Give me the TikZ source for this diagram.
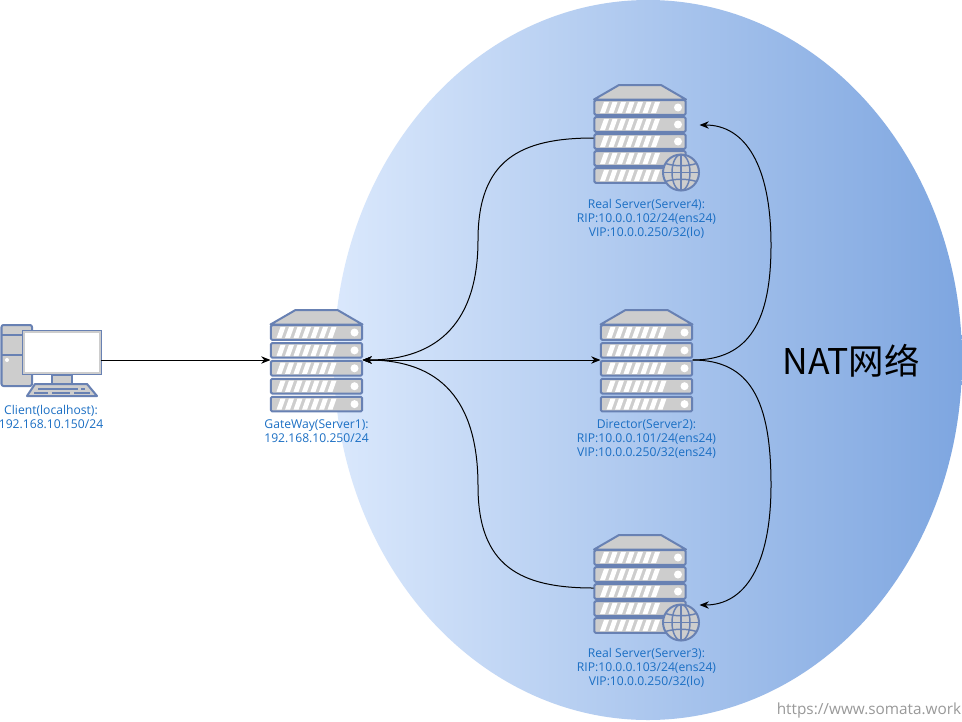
\documentclass[tikz,border=0pt]{standalone}
\usepackage{fontspec}
\setmainfont{Open Sans}
\newfontfamily\cjkf{Noto Sans CJK SC}
\usetikzlibrary{arrows.meta}
\definecolor{rackline}{HTML}{6881B3}
\definecolor{rackfill}{HTML}{CDCDCD}
\definecolor{labelblue}{HTML}{1B6FC4}
\definecolor{ovalL}{HTML}{DAE8FC}
\definecolor{ovalR}{HTML}{7EA6E0}
\tikzset{
  x=0.75pt,y=-0.75pt,
  rackpart/.style={draw=rackline,fill=rackfill,line width=1.5pt,line join=round},
  rackrow/.style={rackpart,rounded corners=1pt,minimum width=68.5pt,minimum height=11pt,inner sep=0pt,outer sep=0pt},
  iconbox/.style={draw=none,inner sep=0pt,outer sep=0pt},
  slit/.style={fill=white,draw=none},
  lbl/.style={text=labelblue,font=\fontsize{9.1pt}{10.5pt}\selectfont,align=center,inner sep=0pt},
  wire/.style={draw=black,line width=0.75pt,-{Stealth[length=7pt,width=5.5pt]}},
  wirerev/.style={draw=black,line width=0.75pt,{Stealth[length=7pt,width=5.5pt]}-{Stealth[length=7pt,width=5.5pt]}},
  pics/rack/.style={code={
    \path[rackpart] (-21,-51) -- (21,-51) -- (46,-36.5) -- (-46,-36.5) -- cycle;
    \foreach \n in {1,...,5}{
      \pgfmathsetmacro\yy{-28.5+(\n-1)*#1}
      \node[rackrow] (-row\n) at (0,\yy) {};
      \foreach \k in {0,...,6}{
        \fill[slit] ({-40+\k*8.5},{\yy+5.6}) -- ({-35+\k*8.5},{\yy+5.6}) -- ({-31+\k*8.5},{\yy-5.6}) -- ({-36+\k*8.5},{\yy-5.6}) -- cycle;
      }
      \fill[white] (38,\yy) circle (4);
    }
  }},
  pics/globe/.style={code={
    \path[draw=rackline,fill=rackfill,line width=1.5pt] (0,0) circle (18);
    \begin{scope}[draw=rackline,line width=1.1pt]
      \draw (0,-18) -- (0,18);
      \draw (0,0) ellipse (9 and 18);
      \draw (-18,0) -- (18,0);
      \draw (-15.5,-9) .. controls (-6,-6) and (6,-6) .. (15.5,-9);
      \draw (-15.5,9) .. controls (-6,6) and (6,6) .. (15.5,9);
    \end{scope}
  }},
}
\begin{document}
\begin{tikzpicture}
\useasboundingbox (0,0) rectangle (962,721);
\fill[white] (0,0) rectangle (962,721);
\path[left color=ovalL,right color=ovalR,draw=none] (648,360) ellipse (314 and 360);

% servers
\pic (r1) at (316.5,361) {rack=17.9};
\pic (r2) at (646.5,361) {rack=17.9};
\pic (r4) at (640,136) {rack=17};
\pic (r3) at (640,586) {rack=17};
\pic at (681,172.5) {globe};
\pic at (681,622.5) {globe};

% connection outlines of the icons
\node[iconbox,minimum width=69pt,minimum height=75.75pt] (s1) at (316.5,360) {};
\node[iconbox,minimum width=69pt,minimum height=75.75pt] (s2) at (646.5,360) {};
\node[iconbox,minimum width=79.5pt,minimum height=79.5pt] (s4) at (646.5,138) {};
\node[iconbox,minimum width=79.5pt,minimum height=79.5pt] (s3) at (646.5,588) {};

% client
\path[rackpart,rounded corners=1.5pt] (1.5,325) rectangle (32,386);
\draw[rackline,line width=1.1pt] (1.5,335) -- (22,335) (1.5,355) -- (22,355);
\fill[white] (7,360) circle (2);
\path[rackpart] (52,375) rectangle (72,385);
\path[rackpart] (35,384) -- (87,384) -- (97,396) -- (27,396) -- cycle;
\draw[rackline,line width=1.1pt] (38,389) -- (78,389) (81,389) -- (85,389) (34,393) -- (48,393) (52,393) -- (70,393) (74,393) -- (90,393);
\node[draw=rackline,fill=white,line width=1.6pt,minimum width=58pt,minimum height=32.5pt,inner sep=0pt,outer sep=0pt] (client) at (62,352.5) {};
\path[draw=rackfill,line width=1.2pt] (24,332) rectangle (100,373);

% labels
\node[lbl] (lc) at (51,416.5) {Client(localhost):\\192.168.10.150/24};
\node[lbl] (l1) at (316.5,431.5) {GateWay(Server1):\\192.168.10.250/24};
\node[lbl] (l2) at (646.5,438.5) {Director(Server2):\\RIP:10.0.0.101/24(ens24)\\VIP:10.0.0.250/32(ens24)};
\node[lbl] (l4) at (646.5,218.5) {Real Server(Server4):\\RIP:10.0.0.102/24(ens24)\\VIP:10.0.0.250/32(lo)};
\node[lbl] (l3) at (646.5,667.5) {Real Server(Server3):\\RIP:10.0.0.103/24(ens24)\\VIP:10.0.0.250/32(lo)};
\node[inner sep=0pt,font=\fontsize{26.6pt}{30pt}\selectfont\cjkf] (nat) at (851,361) {NAT网络};
\node[inner sep=0pt,text=black!40,font=\fontsize{11.5pt}{14pt}\selectfont] (wm) at (869,711) {https://www.somata.work};

% connectors
\draw[wire] (client.east |- s1.west) -- (s1.west);
\draw[wirerev] (s1.east) -- (s2.west);
\draw[wire] (s4.west) .. controls (520,138) and (478,160) .. (478,240) .. controls (478,320) and (440,360) .. (s1.east);
\draw[wire] (s3.west) .. controls (520,588) and (478,566) .. (478,486) .. controls (478,400) and (440,360) .. (s1.east);
\draw[wire] (s2.east) .. controls (750,360) and (771,320) .. (771,245) .. controls (771,165) and (745,125) .. ([yshift=9.75pt]s4.east);
\draw[wire] (s2.east) .. controls (750,360) and (771,400) .. (771,485) .. controls (771,565) and (745,605) .. ([yshift=-12.75pt]s3.east);
\end{tikzpicture}
\end{document}
